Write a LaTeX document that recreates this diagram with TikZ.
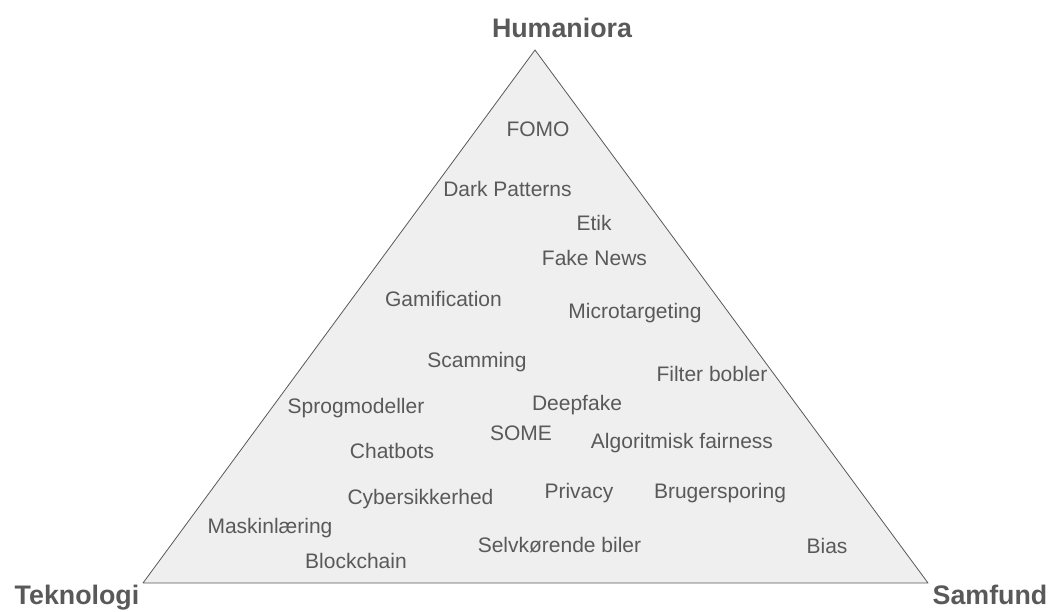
\documentclass[tikz,border=0pt]{standalone}
\usepackage{fontspec}
\setmainfont{Liberation Sans}
\usepackage{tikz}
\definecolor{txtgray}{HTML}{595959}
\definecolor{fillgray}{HTML}{EFEFEF}

\begin{document}
\begin{tikzpicture}[x=1pt,y=-1pt,
	emne/.style={anchor=base,inner sep=0pt,text=txtgray,font=\fontsize{21}{25}\selectfont},
	hjorne/.style={anchor=base,inner sep=0pt,text=txtgray,font=\fontsize{26.8}{30}\selectfont\bfseries}]
	\useasboundingbox (0,0) rectangle (1052,612);
	\coordinate (top) at (535,50); %Humaniora
	\coordinate (venstre) at (143,583); %Teknologi
	\coordinate (hojre) at (928,583); %Samfund
	\filldraw[fill=fillgray,draw=txtgray,line width=0.8pt,line join=round] (top) -- (venstre) -- (hojre) -- cycle; %trekant
	\node[hjorne] (hum) at (562,38) {Humaniora};
	\node[hjorne] (tek) at (77,604) {Teknologi};
	\node[hjorne] (sam) at (990,604) {Samfund};
	\foreach \x/\y/\navn/\tekst in {538/137/fomo/FOMO, 507.5/197/dark/Dark Patterns, 594/231/etik/Etik,
		594.5/266/fake/Fake News, 443.5/307/gami/Gamification, 635/319/micro/Microtargeting,
		477/367/scam/Scamming, 712/381/filter/Filter bobler, 356/413/sprog/Sprogmodeller,
		577/410/deep/Deepfake, 521/440/some/SOME, 392/458/chat/Chatbots,
		682/448/algo/Algoritmisk fairness, 420.5/504/cyber/Cybersikkerhed, 579/498/priv/Privacy,
		720/498/bruger/Brugersporing, 270/533/mask/Maskinlæring, 356/568/block/Blockchain,
		559.5/552/selv/Selvkørende biler, 827/553/bias/Bias}{ %emner
		\node[emne] (\navn) at (\x,\y) {\tekst};
	}
\end{tikzpicture}
\end{document}
